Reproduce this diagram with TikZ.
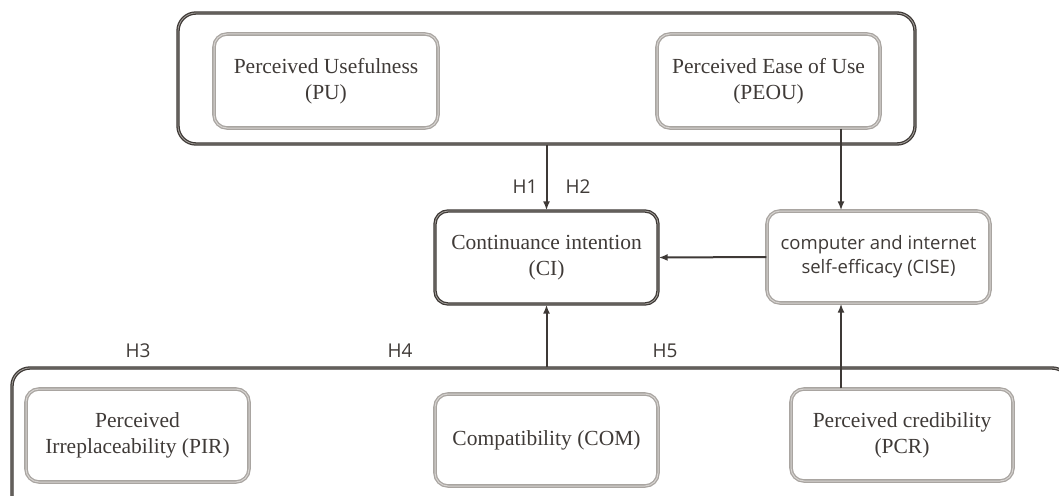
\documentclass[tikz,border=0pt]{standalone}
\usepackage{fontspec}
\setmainfont{Liberation Serif}
\newfontfamily\labelfont{Open Sans}
\usepackage{tikz}
\usetikzlibrary{arrows.meta}
\usepackage{color}

\definecolor{linedark}{HTML}{3E3936}
\definecolor{linegray}{HTML}{A9A5A1}
\definecolor{innergray}{HTML}{D6D3D0}
\definecolor{textgray}{HTML}{3F3A37}

\begin{document}
\begin{tikzpicture}[>={Latex[length=9pt,width=7pt]}, x=1pt, y=-1pt,
  groupbox/.style={draw=linedark, double=linegray, double distance=0.8pt, line width=1.3pt, rounded corners=18pt},
  darkbox/.style={draw=linedark, double=linegray, double distance=0.8pt, line width=1.3pt, rounded corners=13pt,
    align=center, text=textgray, font=\fontsize{21.5}{26}\selectfont},
  graybox/.style={draw=linegray, double=innergray, double distance=1pt, line width=1.3pt, rounded corners=13pt,
    align=center, text=textgray, font=\fontsize{21.5}{26}\selectfont},
  hlabel/.style={text=textgray, font=\labelfont\fontsize{19}{23}\selectfont},
  arrow/.style={->, draw=linedark, line width=2pt}]
\clip (0,0) rectangle (1059,495);

% Upper group
% Usefulness and ease of use
  \node[groupbox, minimum width=737pt, minimum height=131pt] (grpTop) at (546.5,78.5) {};
  \node[graybox, minimum width=224pt, minimum height=94pt] (pu) at (326,81) {Perceived Usefulness\\(PU)};
  \node[graybox, minimum width=223pt, minimum height=94pt] (peou) at (768.5,81) {Perceived Ease of Use\\(PEOU)};

% Middle row
  \node[darkbox, minimum width=223pt, minimum height=93pt] (ci) at (546.5,257.5) {Continuance intention\\(CI)};
  \node[graybox, minimum width=223pt, minimum height=92pt,
    font=\labelfont\fontsize{18.5}{24}\selectfont] (cise) at (878.5,257) {computer and internet\\self-efficacy (CISE)};
  \coordinate (lineR) at (841,0);

% Lower group
  \node[groupbox, minimum width=1058pt, minimum height=152pt] (grpBottom) at (541,444) {};
  \node[graybox, minimum width=223pt, minimum height=93pt] (pir) at (137.5,435.5) {Perceived\\Irreplaceability (PIR)};
  \node[graybox, minimum width=223pt, minimum height=92pt] (com) at (546.5,440) {Compatibility (COM)};
  \node[graybox, minimum width=222pt, minimum height=92pt] (pcr) at (902,435) {Perceived credibility\\(PCR)};

% Arrows
  \draw[arrow] (grpTop.south -| ci.north) -- (ci.north);
  \draw[arrow] (peou.south -| lineR) -- (cise.north -| lineR);
  \draw[arrow] (cise.west) -- (ci.east);
  \draw[arrow] (grpBottom.north -| ci.south) -- (ci.south);
  \draw[arrow] (pcr.north -| lineR) -- (cise.south -| lineR);

% Hypothesis labels
  \node[hlabel] (h1) at (525,187) {H1};
  \node[hlabel] (h2) at (578,187) {H2};
  \node[hlabel] (h3) at (138,351) {H3};
  \node[hlabel] (h4) at (400,351) {H4};
  \node[hlabel] (h5) at (665,351) {H5};
\end{tikzpicture}
\end{document}
